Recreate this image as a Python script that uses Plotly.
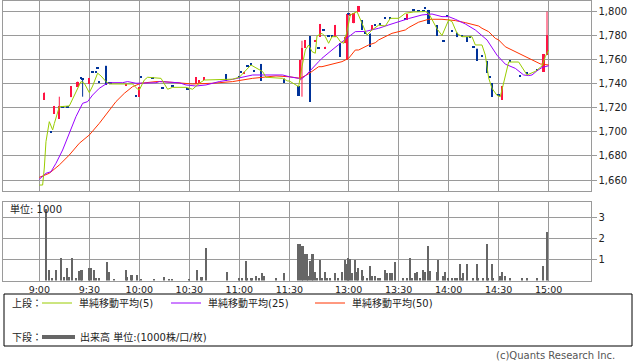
import plotly.graph_objects as go

W, H = 638, 362

# ---------------- data ----------------
candle_time = ["09:03","09:07","09:09","09:12","09:14","09:17","09:19","09:23","09:25","09:26",
               "09:30","09:32","09:34","09:35","09:36","09:40","09:42","09:43","09:52","09:58",
               "10:00","10:01","10:08","10:14","10:20","10:29","10:34","10:36","10:39","10:52",
               "11:00","11:01","11:03","11:05","11:07","11:09","11:13","11:27",
               "12:30","12:31","12:32","12:34","12:37","12:40","12:42","12:43","12:45","12:46",
               "12:48","12:50","12:52","12:55","12:58","12:59","13:00","13:01","13:03","13:06",
               "13:08","13:10","13:13","13:14","13:16","13:19","13:22","13:25","13:34","13:35",
               "13:39","13:42","13:45","13:46","13:48","13:53","13:57","13:59","14:02","14:05",
               "14:08","14:11","14:13","14:15","14:17","14:20","14:23","14:25","14:26","14:30",
               "14:32","14:37","14:43","14:47","14:53","14:57","14:59"]
candle_open = [1727,1700,1715,1711.4,1720.5,1720.5,1729,1737.5,1745,1744.5,
               1740,1750,1749.5,1753,1741,1755.3,1740.6,1740.6,1738.5,1729.7,
               1729.4,1745.6,1745,1736,1737.8,1735.6,1740,1740.6,1743.3,1748.3,
               1745.3,1749.4,1748.3,1755,1756.4,1750.3,1756.7,1744.7,
               1738.3,1744,1760,1770,1780,1775,1769.7,1779.4,1785,1769.5,
               1780,1780,1779.4,1774,1774,1760,1798.3,1797.5,1790.6,1800.3,
               1793.3,1782,1782.2,1785,1788.6,1789.7,1794.7,1794.7,1794,1793.3,
               1801,1800.6,1800.6,1803,1801.7,1789,1775.8,1796.7,1783.5,1783,
               1780,1779,1779,1770.5,1769.7,1763,1759.2,1745.2,1740.6,1730.3,
               1726.7,1758.5,1746.7,1749,1751.7,1750.3,1764.2]
candle_high = [1733,1700,1721.7,1729.4,1720.5,1720.5,1738.3,1742,1745,1745,
               1745,1750,1749.5,1753,1741,1755.3,1740.6,1740.6,1739.5,1729.7,
               1737.3,1745.6,1745,1736,1737.8,1735.6,1745.6,1743.3,1745.6,1748.3,
               1745.3,1749.4,1750.3,1755,1756.4,1750.3,1756.7,1744.7,
               1738.3,1760,1776,1776.5,1780,1776.7,1769.7,1790,1785,1771,
               1780,1780,1789.2,1774,1779.4,1798.3,1798.3,1798.5,1799,1805,
               1793.3,1782,1782.2,1789,1788.6,1789.7,1794.7,1794.7,1794,1798.3,
               1801,1800.6,1800.6,1803,1801.7,1789,1775.8,1796.7,1783.5,1783,
               1780,1779,1779,1770.5,1769.7,1763,1759.2,1745.2,1740.6,1730.3,
               1738.3,1758.5,1746.7,1749,1751.7,1765,1800.3]
candle_low = [1727,1700,1715,1711.4,1720.5,1720.5,1729,1737.5,1745,1729.4,
              1740,1750,1749.5,1753,1741,1739.2,1740.6,1740.6,1738.5,1729.7,
              1729.4,1745.6,1745,1736,1737.8,1735.6,1740,1740.6,1743.3,1742.8,
              1745.3,1749.4,1748.3,1755,1756.4,1750.3,1742.8,1741.4,
              1730.3,1744,1729.4,1770,1725.3,1775,1769.7,1779.4,1785,1769.5,
              1780,1780,1779.4,1762.8,1774,1760,1798.3,1797.5,1790.6,1800.3,
              1785,1782,1771,1785,1788.6,1789.7,1794.7,1794.7,1794,1793.3,
              1801,1800.6,1800.6,1803,1790,1780,1775.8,1796.7,1783.5,1779,
              1780,1775,1779,1770.5,1759.4,1763,1749.4,1745.2,1729.4,1730.3,
              1726.7,1758.5,1746.7,1749,1751.7,1750.3,1764.2]
candle_close = [1733,1700,1721.7,1721.7,1720.5,1720.5,1738.3,1742,1745,1744,
                1745,1750,1749.5,1753,1741,1739.2,1740.6,1740.6,1739.5,1729.7,
                1737.3,1745.6,1745,1736,1737.8,1735.6,1745.6,1743.3,1745.6,1742.8,
                1745.3,1749.4,1750.3,1755,1756.4,1750.3,1742.8,1741.4,
                1730.3,1760,1770,1776.5,1725.3,1776.7,1769.7,1790,1785,1771,
                1780,1780,1789.2,1762.8,1779.4,1798.3,1798.3,1798.5,1799,1805,
                1785,1782,1771,1789,1788.6,1789.7,1794.7,1794.7,1794,1798.3,
                1801,1800.6,1800.6,1803,1790,1780,1775.8,1796.7,1783.5,1779,
                1780,1775,1779,1770.5,1759.4,1763,1749.4,1745.2,1729.4,1730.3,
                1738.3,1758.5,1746.7,1749,1751.7,1765,1780.8]

ma5_time = ["09:00","09:02","09:03","09:04","09:06","09:08","09:09","09:12","09:18","09:21",
            "09:25","09:27","09:30","09:32","09:35","09:37","09:40","09:42","09:56","09:59",
            "10:00","10:03","10:05","10:13","10:17","10:20","10:28","10:32","10:36","10:39",
            "10:52","10:56","11:00","11:07","11:14","11:16","11:26","11:29","11:30",
            "12:30","12:32","12:34","12:36","12:38","12:40","12:41","12:44","12:46","12:48",
            "12:50","12:53","12:55","12:57","12:59","13:01","13:05","13:08","13:11","13:14",
            "13:18","13:22","13:25","13:30","13:34","13:39","13:46","13:48","13:53","13:56",
            "14:00","14:02","14:05","14:08","14:14","14:16","14:20","14:22","14:24","14:26",
            "14:29","14:31","14:33","14:36","14:42","14:45","14:47","14:52","14:56","14:58","15:00"]
ma5_val = [1655.8,1655.8,1670,1692,1708.6,1701.7,1707,1721,1721.7,1730.8,
           1742,1740.6,1732.8,1738.3,1749,1746.7,1742,1740,1740,1735.6,
           1735,1743.3,1745.6,1744.7,1735.6,1737.2,1737.2,1735.6,1740.6,1743.3,
           1743.9,1744,1745.6,1755.8,1750.3,1745.6,1744.7,1742.5,1742.5,
           1737.8,1754.4,1768.3,1772.5,1767,1765.6,1780,1782.2,1779.4,1773.9,
           1779.4,1779.4,1775.3,1773.9,1783.6,1797.5,1800.3,1790.6,1780.8,1785,
           1789,1788.3,1794.7,1794.7,1798.9,1800,1800.3,1798.9,1786,1780.4,
           1793.3,1792,1782.2,1779.4,1779.4,1772.5,1772.5,1764,1745,1736.4,
           1730.5,1729.4,1740,1758.3,1758.3,1751.7,1747.5,1750.5,1755,1762.8,1768.3]

ma25_time = ["09:00","09:02","09:04","09:07","09:10","09:14","09:18","09:22","09:26","09:29",
             "09:32","09:36","09:40","09:43","09:50","09:53","09:58","10:04","10:10","10:12",
             "10:24","10:28","10:34","10:40","10:48","10:56","11:08","11:26","11:28","11:30",
             "12:30","12:31","12:34","12:38","12:42","12:44","12:48","12:50","12:55","12:59",
             "13:04","13:10","13:18","13:24","13:30","13:36","13:44","13:50","13:56","14:00",
             "14:04","14:10","14:16","14:23","14:29","14:34","14:40","14:45","14:48","14:50",
             "14:53","14:56","15:00"]
ma25_val = [1660.6,1662.8,1665.6,1666.9,1673.9,1685,1698.9,1712.8,1723.9,1725.3,
            1730.8,1736.4,1740,1741.1,1741.1,1742,1740.6,1740.6,1741,1742,
            1741,1739.2,1738.3,1739.2,1742,1743.9,1747.5,1747.5,1746.7,1746,
            1744.7,1743.6,1746.7,1753,1758.6,1761.4,1765.6,1768.3,1773.9,1778,
            1783.6,1783.8,1786.4,1789.2,1791.9,1794.5,1797.5,1798.3,1796.1,1796.1,
            1793.9,1790,1785,1776.7,1764,1756.5,1753,1747.5,1747,1747.5,
            1751,1753.7,1755.2]

ma50_time = ["09:00","09:06","09:12","09:18","09:24","09:30","09:36","09:42","09:46","09:51",
             "09:56","10:01","10:06","10:10","10:14","10:24","10:32","10:44","10:56","11:08",
             "11:22","11:30",
             "12:30","12:31","12:36","12:42","12:44","12:48","12:56","12:58","13:00","13:04",
             "13:06","13:12","13:16","13:18","13:26","13:34","13:36","13:42","13:48","13:56",
             "14:00","14:04","14:10","14:18","14:20","14:24","14:28","14:30","14:34","14:36",
             "14:42","14:44","14:50","14:55","15:00"]
ma50_val = [1662.2,1665.6,1672.5,1680.8,1690.6,1697.5,1707.2,1718.3,1725.3,1732.2,
            1737.8,1740.6,1741.4,1742,1742,1741,1740,1740.6,1742,1744.7,
            1746.7,1746,
            1745.2,1744.7,1748.5,1754.4,1754.4,1755.8,1758.6,1760,1761.4,1768.3,
            1768.3,1772.5,1774.4,1776.7,1782.2,1785,1787,1791.5,1793.9,1793.9,
            1793.3,1792.8,1791.1,1788.3,1786.4,1783.6,1778,1776.7,1771,1769.7,
            1765.6,1764.2,1760,1756.7,1755.8]

vol_time = ["09:04","09:06","09:08","09:10","09:13","09:15","09:17","09:18","09:20","09:22",
            "09:24","09:25","09:26","09:30","09:31","09:33","09:34","09:36","09:41","09:42",
            "09:45","09:52","09:53","09:55","09:56","09:59","10:01","10:09","10:15","10:18",
            "10:20","10:30","10:35","10:37","10:38","10:40","10:53","11:00","11:02","11:04",
            "11:05","11:07","11:08","11:10","11:12","11:14","11:15","11:22","11:27",
            "12:30","12:31","12:32","12:33","12:34","12:35","12:36","12:37","12:38","12:39",
            "12:40","12:41","12:43","12:44","12:46","12:47","12:49","12:52","12:54","12:56",
            "12:58","12:59","13:00","13:01","13:02","13:04","13:05","13:06","13:08","13:09",
            "13:11","13:13","13:14","13:16","13:18","13:19","13:22","13:23","13:25","13:26",
            "13:28","13:33","13:35","13:37","13:38","13:40","13:41","13:43","13:45","13:46",
            "13:48","13:49","13:53","13:54","13:57","13:58","14:00","14:02","14:04","14:05",
            "14:07","14:08","14:09","14:11","14:15","14:17","14:18","14:21","14:23","14:24",
            "14:26","14:27","14:31","14:32","14:34","14:37","14:44","14:47","14:53","14:57","14:59"]
vol_val = [3.4,0.52,0.15,0.52,1.1,0.2,0.6,0.2,1.1,0.15,
           0.48,0.52,0.52,0.6,0.6,0.5,0.12,0.12,0.9,0.4,
           0.1,0.52,0.2,0.3,0.3,0.3,0.1,0.1,0.2,0.1,
           0.1,0.1,0.52,0.2,0.2,1.55,0.4,0.12,0.12,0.92,
           0.12,0.12,0.12,0.24,0.12,0.35,0.24,0.12,0.35,
           1.76,1.76,1.68,1.68,1.29,1.29,0.24,0.92,1.29,1.29,
           0.44,0.12,1.0,0.12,0.44,0.12,0.12,0.35,0.12,0.4,
           0.97,0.8,1.08,1.05,0.35,1.0,0.44,0.6,0.52,0.24,
           0.12,0.71,0.24,0.24,0.12,0.12,0.52,0.35,0.35,0.35,
           0.9,0.12,0.12,1.08,0.12,0.35,0.44,0.12,0.52,0.44,
           1.67,0.45,0.44,1.0,0.24,0.44,0.12,0.12,0.12,0.12,
           0.81,0.12,0.35,0.81,0.12,0.81,0.12,0.12,1.76,0.12,
           0.81,0.12,0.24,0.44,0.24,0.12,0.12,0.12,0.12,0.71,2.3]

tick_times = ["09:00","09:30","10:00","10:30","11:00","11:30","13:00","13:30","14:00","14:30","15:00"]
tick_labels = ["9:00","9:30","10:00","10:30","11:00","11:30","13:00","13:30","14:00","14:30","15:00"]
price_ticks = [1660,1680,1700,1720,1740,1760,1780,1800]
vol_ticks = [1,2,3]

# ---------------- styling ----------------
UP = "#ff1444"
DOWN = "#003399"
C_MA5 = "#99cc00"
C_MA25 = "#9900ff"
C_MA50 = "#ff3300"
C_VOL = "#666666"
GRID = "#9a9a9a"
FONT = "DejaVu Sans, Noto Sans CJK JP, sans-serif"


def pos(t):
    h, m = map(int, t.split(":"))
    mins = h * 60 + m
    if mins <= 11 * 60 + 30:
        return mins - 540
    return 155.6 + (mins - 750)


def px(x):
    return x / W


def py(y):
    return 1 - y / H


cx = [pos(t) for t in candle_time]
up = [c > o for o, c in zip(candle_open, candle_close)]
body_base = [min(o, c) for o, c in zip(candle_open, candle_close)]
body_h = [max(abs(c - o), 1.2) for o, c in zip(candle_open, candle_close)]
body_col = [UP if u else DOWN for u in up]

fig = go.Figure()

# wicks
for flag, col in ((True, UP), (False, DOWN)):
    wx, wy = [], []
    for x, hi, lo, u in zip(cx, candle_high, candle_low, up):
        if u == flag:
            wx += [x, x, None]
            wy += [lo, hi, None]
    fig.add_trace(go.Scatter(x=wx, y=wy, mode="lines", line=dict(color=col, width=1),
                             hoverinfo="skip", showlegend=False, xaxis="x", yaxis="y"))

fig.add_trace(go.Bar(x=cx, y=body_h, base=body_base, width=1.4,
                     marker=dict(color=body_col, line=dict(width=0)),
                     showlegend=False, xaxis="x", yaxis="y"))

for tt, vv, col in ((ma50_time, ma50_val, C_MA50), (ma25_time, ma25_val, C_MA25), (ma5_time, ma5_val, C_MA5)):
    fig.add_trace(go.Scatter(x=[pos(t) for t in tt], y=vv, mode="lines",
                             line=dict(color=col, width=1), showlegend=False,
                             xaxis="x", yaxis="y"))

fig.add_trace(go.Bar(x=[pos(t) for t in vol_time], y=vol_val, width=1.3,
                     marker=dict(color=C_VOL, line=dict(width=0)),
                     showlegend=False, xaxis="x2", yaxis="y2"))

xr = [-21.6, 330.7]
xdom = [3.3 / W, 590.5 / W]
tickvals = [pos(t) for t in tick_times]

axis_common = dict(showline=True, mirror=True, linecolor=GRID, linewidth=1,
                   showgrid=True, gridcolor=GRID, gridwidth=1, zeroline=False)

fig.update_layout(
    width=W, height=H, autosize=False,
    margin=dict(l=0, r=0, t=0, b=0),
    paper_bgcolor="white", plot_bgcolor="white",
    barmode="overlay", bargap=0,
    font=dict(family=FONT, size=10, color="#222222"),
    xaxis=dict(domain=xdom, range=xr, tickvals=tickvals, showticklabels=False,
               ticks="", anchor="y", **axis_common),
    yaxis=dict(domain=[py(190.5), py(0.8)], range=[1651.25, 1809.3], side="right",
               tickvals=price_ticks, tickformat=",d", ticks="outside", ticklen=5,
               tickcolor=GRID, anchor="x", tickfont=dict(size=10, family=FONT),
               **axis_common),
    xaxis2=dict(domain=xdom, range=xr, tickvals=tickvals, ticktext=tick_labels,
                ticks="", anchor="y2", matches="x", tickfont=dict(size=9.5, family=FONT),
                **axis_common),
    yaxis2=dict(domain=[py(280.5), py(201.7)], range=[0, 3.75], side="right",
                tickvals=vol_ticks, ticks="outside", ticklen=5, tickcolor=GRID,
                anchor="x2", tickfont=dict(size=10, family=FONT), **axis_common),
)

shapes = [
    dict(type="rect", xref="paper", yref="paper", x0=px(4), x1=px(632), y0=py(346), y1=py(294),
         line=dict(color="#000000", width=1), fillcolor="rgba(0,0,0,0)"),
    dict(type="line", xref="paper", yref="paper", x0=px(42), x1=px(72), y0=py(303), y1=py(303),
         line=dict(color=C_MA5, width=1)),
    dict(type="line", xref="paper", yref="paper", x0=px(171), x1=px(201), y0=py(303), y1=py(303),
         line=dict(color=C_MA25, width=1)),
    dict(type="line", xref="paper", yref="paper", x0=px(315), x1=px(345), y0=py(303), y1=py(303),
         line=dict(color=C_MA50, width=1)),
    dict(type="line", xref="paper", yref="paper", x0=px(42), x1=px(75), y0=py(337), y1=py(337),
         line=dict(color=C_VOL, width=4)),
]
fig.update_layout(shapes=shapes)

texts = [
    ("単位: 1000", 8, 209, "left"),
    ("上段：", 10, 303, "left"),
    ("単純移動平均(5)", 77, 303, "left"),
    ("単純移動平均(25)", 206, 303, "left"),
    ("単純移動平均(50)", 350, 303, "left"),
    ("下段：", 10, 337, "left"),
    ("出来高 単位:(1000株/口/枚)", 78, 337, "left"),
]
ann = []
for t, x, y, anc in texts:
    ann.append(dict(text=t, xref="paper", yref="paper", x=px(x), y=py(y), xanchor=anc,
                    yanchor="middle", showarrow=False, font=dict(size=10, family=FONT, color="#222222")))
ann.append(dict(text="(c)Quants Research Inc.", xref="paper", yref="paper", x=px(617), y=py(355),
                xanchor="right", yanchor="middle", showarrow=False,
                font=dict(size=10, family=FONT, color="#555555")))
fig.update_layout(annotations=ann)

fig.write_html("out.html", config={"displayModeBar": False})
